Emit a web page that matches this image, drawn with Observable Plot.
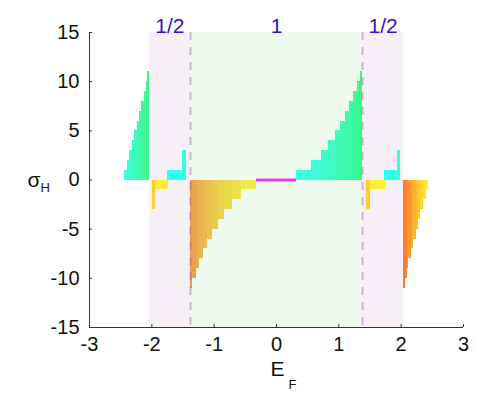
<!DOCTYPE html>
<html><head><meta charset="utf-8">
<script src="https://cdn.jsdelivr.net/npm/d3@7"></script>
<script src="https://cdn.jsdelivr.net/npm/@observablehq/plot@0.6"></script>
<style>body{margin:0;background:#fff}</style>
</head><body><div id="chart"></div>
<script>
// ---- data ----
const xTicks = [-3, -2, -1, 0, 1, 2, 3];
const yTicks = [-15, -10, -5, 0, 5, 10, 15];

// plateau regions (E_F ranges) and their labels
const bandX1 = [-2.04, -1.38, 1.38];
const bandX2 = [-1.38, 1.38, 2.04];
const bandLabels = ["1/2", "1", "1/2"];
const bandKind = ["half", "one", "half"];
const dashX = [-1.38, 1.38];

// Hall conductance staircases: plateau edges in E_F and sigma_H on each plateau
const upLeftEdges = [-2.438, -2.390, -2.358, -2.310, -2.278, -2.230, -2.198, -2.166, -2.118, -2.085, -2.069, -2.037];
const upLeftSigma = [1, 2, 3, 4, 5, 6, 7, 8, 9, 10, 11];
const lowLeftEdges = [-1.380, -1.348, -1.283, -1.235, -1.171, -1.107, -1.027, -0.930, -0.834, -0.706, -0.561, -0.321];
const lowLeftSigma = [-11, -10, -9, -8, -7, -6, -5, -4, -3, -2, -1];
const zeroEdges = [-0.321, 0.321];
const zeroSigma = [0];
const upRightEdges = [0.321, 0.562, 0.722, 0.834, 0.947, 1.027, 1.107, 1.171, 1.235, 1.299, 1.348, 1.380];
const upRightSigma = [1, 2, 3, 4, 5, 6, 7, 8, 9, 10, 11];
const lowRightEdges = [2.037, 2.069, 2.102, 2.118, 2.166, 2.198, 2.246, 2.278, 2.310, 2.358, 2.406, 2.438];
const lowRightSigma = [-11, -10, -9, -8, -7, -6, -5, -4, -3, -2, -1];

// isolated plateaus inside the 1/2 regions
const smallX1 = [-1.989, -1.941, -1.749, -1.508, 1.444, 1.508, 1.733, 1.941];
const smallX2 = [-1.941, -1.733, -1.508, -1.444, 1.508, 1.749, 1.941, 1.989];
const smallSigma = [-3, -1, 1, 3, -3, -1, 1, 3];

// ---- styles ----
const bandFill = {half: "#f6eff6", one: "#eefaee"};
const upColor = d3.interpolateRgb("#40fde2", "#3af884");
const lowLeftColor = d3.interpolateRgb("#ebea4c", "#eb9a52");
const lowRightColor = d3.interpolateRgb("#ffee30", "#ff782c");
const smallColor = {"-3": "#ffcc33", "-1": "#ffee33", "1": "#33ffee", "3": "#33ffdd"};

function steps(edges, sigma, group) {
  return sigma.map((s, i) => ({x1: edges[i], x2: edges[i + 1], sigma: s, group}));
}
const bars = [
  ...steps(upLeftEdges, upLeftSigma, "up"),
  ...steps(lowLeftEdges, lowLeftSigma, "lowLeft"),
  ...steps(upRightEdges, upRightSigma, "up"),
  ...steps(lowRightEdges, lowRightSigma, "lowRight"),
  ...smallSigma.map((s, i) => ({x1: smallX1[i], x2: smallX2[i], sigma: s, group: "small"}))
];
const zeroBars = steps(zeroEdges, zeroSigma, "zero");
function barColor(d) {
  const t = (Math.abs(d.sigma) - 1) / 10;
  if (d.group === "up") return upColor(t);
  if (d.group === "lowLeft") return lowLeftColor(t);
  if (d.group === "lowRight") return lowRightColor(t);
  return smallColor[String(d.sigma)];
}
const bands = bandX1.map((x1, i) => ({x1, x2: bandX2[i], label: bandLabels[i], kind: bandKind[i]}));
const fmt = d => String(d);

const font = "'Liberation Sans', Arial, Helvetica, sans-serif";
const chart = Plot.plot({
  width: 477,
  height: 395,
  marginLeft: 89,
  marginRight: 14,
  marginTop: 32,
  marginBottom: 68,
  style: {fontFamily: font, fontSize: "20px", color: "#111", background: "#fff"},
  x: {domain: [-3, 3]},
  y: {domain: [-15, 15]},
  marks: [
    Plot.rect(bands, {x1: "x1", x2: "x2", fill: d => bandFill[d.kind]}),
    Plot.rect(bars, {x1: "x1", x2: "x2", y1: () => 0, y2: "sigma", fill: barColor, shapeRendering: "crispEdges"}),
    Plot.ruleY(zeroBars, {x1: "x1", x2: "x2", y: "sigma", stroke: "#ee33ee", strokeWidth: 3}),
    Plot.ruleX(dashX, {stroke: "#b060b0", strokeOpacity: 0.45, strokeWidth: 2, strokeDasharray: "8,7"}),
    Plot.text(bands, {x: d => (d.x1 + d.x2) / 2, text: "label", frameAnchor: "top", dy: -14, fill: "#3311cc", fontSize: 21}),
    Plot.axisX({ticks: xTicks, tickFormat: fmt, tickSize: -3, tickPadding: 12, label: null, stroke: "#333", fill: "#111"}),
    Plot.axisY({ticks: yTicks, tickFormat: fmt, tickSize: -3, tickPadding: 13, label: null, stroke: "#333", fill: "#111"}),
    Plot.ruleX([-3], {stroke: "#333"}),
    Plot.ruleY([-15], {stroke: "#333"}),
    Plot.text(["σ"], {frameAnchor: "left", dx: -62, dy: 0, fontSize: 21, fill: "#111"}),
    Plot.text(["H"], {frameAnchor: "left", dx: -49, dy: 8, fontSize: 13, fill: "#111"}),
    Plot.text(["E"], {frameAnchor: "bottom", dx: 1, dy: 48, fontSize: 21, fill: "#111"}),
    Plot.text(["F"], {frameAnchor: "bottom", dx: 16, dy: 61, fontSize: 13, fill: "#111"})
  ]
});
document.getElementById("chart").appendChild(chart);
</script>
</body></html>
